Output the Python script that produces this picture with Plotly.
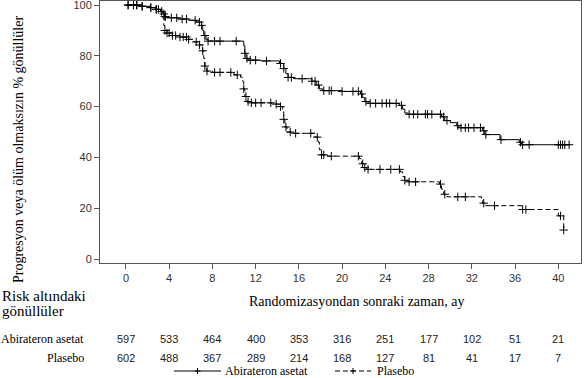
import plotly.graph_objects as go
import numpy as np

# ---------------- data ----------------
abi_t = [0, 1.5, 2.2, 2.8, 3.2, 3.5, 3.6, 3.7, 4.8, 5.8, 6.5, 7.0, 7.1, 7.2, 7.4, 7.6,
         10.9, 11.0, 11.1, 11.3, 12.5, 14.2, 14.6, 14.8, 15.0, 15.5, 17.2, 17.6, 17.9, 18.2,
         20.0, 21.7, 21.9, 22.1, 22.4, 25.3, 25.6, 25.8, 26.1, 29.2, 29.5, 30.0, 30.6, 30.8,
         33.0, 33.2, 34.6, 36.4, 36.6, 41.1]
abi_s = [100, 99.5, 99, 98.3, 97.5, 96.5, 95.5, 95, 94.5, 94, 93.3, 92, 90, 88, 86.5, 85.8,
         84, 81, 79, 78.3, 78, 77, 75, 73, 71.5, 71, 70, 68.5, 67, 66.3,
         66, 65, 63.5, 62, 61.3, 60.5, 59, 57.5, 57, 56, 54.5, 53.7, 52.5, 51.7,
         50.5, 49, 47, 46, 45, 45]

pla_t = [0, 1.5, 2.2, 2.8, 3.2, 3.4, 3.5, 3.6, 3.8, 4.3, 5.0, 5.8, 6.3, 6.8, 7.1, 7.2, 7.3, 7.5,
         8.0, 10.0, 10.6, 10.8, 10.9, 11.0, 11.2, 11.5, 13.5, 14.2, 14.5, 14.6, 14.7, 14.9, 15.3,
         17.5, 17.8, 17.9, 18.1, 18.5, 21.6, 21.8, 22.0, 22.3, 25.4, 25.6, 25.8, 26.1,
         29.0, 29.2, 29.4, 29.7, 32.9, 33.0, 33.2, 36.6, 40.0, 40.5]
pla_s = [100, 99.5, 99, 98.3, 97.3, 95, 92, 90, 89, 88, 87.4, 86.5, 85.5, 84.3, 82, 79, 76, 74,
         73.5, 72.5, 71.6, 70, 67, 64, 62, 61.5, 61, 60, 58, 55, 52, 50, 49.5,
         48, 46, 43, 41, 40.5, 39.5, 37.5, 36, 35.3, 34.3, 32.5, 31, 30.4,
         29.5, 27.5, 25.5, 24.5, 23.5, 22, 21, 19.5, 17, 11.4]

abi_cens = [0.2, 0.7, 1.0, 1.5, 2.3, 2.8, 3.0, 3.3, 3.5, 3.6, 3.65, 4.2, 4.7, 5.2, 5.6, 6.4, 6.8,
            7.0, 7.3, 7.6, 8.2, 8.7, 10.2, 11.0, 11.2, 11.5, 12.0, 13.0, 14.3, 14.6, 15.0, 15.3,
            16.3, 17.2, 17.5, 17.8, 18.3, 18.8, 19.0, 20.0, 21.0, 21.5, 21.8, 22.2, 22.6, 23.1,
            23.7, 24.1, 24.4, 25.0, 25.5, 26.2, 26.6, 27.0, 27.7, 27.9, 28.3, 29.1, 29.4, 29.7,
            30.7, 31.0, 31.4, 31.7, 32.2, 32.8, 33.1, 33.3, 34.7, 36.5, 36.7, 37.3,
            40.0, 40.2, 40.4, 40.6, 41.0]
pla_cens = [0.2, 0.7, 1.0, 1.5, 2.3, 2.8, 3.6, 3.8, 4.0, 4.3, 4.6, 5.0, 5.3, 5.6, 5.8, 6.5, 6.8,
            7.1, 7.3, 7.5, 8.2, 8.7, 9.7, 10.3, 10.9, 11.1, 11.3, 11.6, 12.0, 12.5, 13.4, 13.9,
            14.3, 14.6, 14.8, 15.2, 15.7, 17.1, 17.7, 18.1, 18.3, 19.0, 21.5, 21.9, 22.1, 22.4,
            23.5, 24.5, 25.3, 25.8, 26.2, 26.8, 29.1, 29.5, 30.7, 31.4, 33.1, 34.1, 36.7, 37.0,
            40.2, 40.5]

tick_months = [0, 4, 8, 12, 16, 20, 24, 28, 32, 36, 40]
risk_abi = [597, 533, 464, 400, 353, 316, 251, 177, 102, 51, 21]
risk_pla = [602, 488, 367, 289, 214, 168, 127, 81, 41, 17, 7]

name_abi = "Abirateron asetat"
name_pla = "Plasebo"

# ---------------- layout helpers ----------------
W, H = 585, 378
L, R, T, B = 100, 4, 1, 115
PW, PH = W - L - R, H - T - B
SERIF = "Liberation Serif"
SANS = "Liberation Sans"
DASH = "5px,3px"


def px_x(px):
    return (px - L) / PW


def px_y(py):
    return (H - B - py) / PH


def step_val(times, surv, t):
    idx = np.searchsorted(times, t, side="right") - 1
    return surv[max(idx, 0)]


fig = go.Figure()

for t, s, cens, dash in [(abi_t, abi_s, abi_cens, "solid"), (pla_t, pla_s, pla_cens, DASH)]:
    fig.add_trace(go.Scatter(x=t, y=s, mode="lines", line=dict(color="black", width=1, dash=dash, shape="hv"),
                             showlegend=False, hoverinfo="skip", cliponaxis=False))
    cy = [step_val(t, s, c) for c in cens]
    fig.add_trace(go.Scatter(x=cens, y=cy, mode="markers",
                             marker=dict(symbol="cross-thin", size=6, line=dict(color="black", width=1)),
                             showlegend=False, hoverinfo="skip"))

annotations = []
shapes = []
# y axis title
annotations.append(dict(text="Progresyon veya ölüm olmaksızın % gönüllüler", textangle=-90,
                        xref="paper", yref="paper", x=px_x(18), y=px_y(150), showarrow=False,
                        font=dict(family=SERIF, size=14, color="black"), xanchor="center", yanchor="middle"))
# x axis title
annotations.append(dict(text="Randomizasyondan sonraki zaman, ay", xref="paper", yref="paper",
                        x=px_x(356), y=px_y(301), showarrow=False,
                        font=dict(family=SERIF, size=14, color="black"), xanchor="center", yanchor="middle"))
# risk header (two lines)
for txt, py in [("Risk altındaki", 296), ("gönüllüler", 311)]:
    annotations.append(dict(text=txt, xref="paper", yref="paper", x=px_x(0), y=px_y(py),
                            showarrow=False, font=dict(family=SERIF, size=15, color="black"),
                            xanchor="left", yanchor="middle"))
for lbl, row, py in [(name_abi, risk_abi, 339), (name_pla, risk_pla, 358)]:
    annotations.append(dict(text=lbl, xref="paper", yref="paper", x=px_x(86), y=px_y(py), showarrow=False,
                            font=dict(family=SERIF, size=12, color="black"), xanchor="right", yanchor="middle"))
    for m, v in zip(tick_months, row):
        annotations.append(dict(text=str(v), xref="x", yref="paper", x=m, y=px_y(py), showarrow=False,
                                font=dict(family=SANS, size=11, color="#222"), xanchor="center", yanchor="middle"))

# legend (drawn manually to match the reference's sample lengths and spacing)
LEG_Y = 371
for x0, x1, dash, label, tx in [(174, 221, "solid", name_abi, 223), (335, 371, DASH, name_pla, 375)]:
    shapes.append(dict(type="line", xref="paper", yref="paper", x0=px_x(x0), x1=px_x(x1),
                       y0=px_y(LEG_Y), y1=px_y(LEG_Y), line=dict(color="black", width=1, dash=dash)))
    cx = (x0 + x1) / 2
    shapes.append(dict(type="line", xref="paper", yref="paper", x0=px_x(cx), x1=px_x(cx),
                       y0=px_y(LEG_Y - 3), y1=px_y(LEG_Y + 3), line=dict(color="black", width=1)))
    shapes.append(dict(type="line", xref="paper", yref="paper", x0=px_x(cx - 3), x1=px_x(cx + 3),
                       y0=px_y(LEG_Y), y1=px_y(LEG_Y), line=dict(color="black", width=1)))
    annotations.append(dict(text=label, xref="paper", yref="paper", x=px_x(tx), y=px_y(LEG_Y), showarrow=False,
                            font=dict(family=SERIF, size=12, color="black"), xanchor="left", yanchor="middle"))

fig.update_layout(
    width=W, height=H, margin=dict(l=L, r=R, t=T, b=B, autoexpand=False),
    plot_bgcolor="white", paper_bgcolor="white",
    annotations=annotations, shapes=shapes,
    showlegend=False,
)
fig.update_xaxes(range=[-2.4, 42.1], tickvals=tick_months, ticks="outside", ticklen=5, tickcolor="#555",
                 showline=True, linecolor="#555", linewidth=1, mirror=True, showgrid=False, zeroline=False,
                 automargin=False, ticklabeloverflow="allow",
                 tickfont=dict(family=SANS, size=11, color="#333"))
fig.update_yaxes(range=[-1.57, 101.6], tickvals=[0, 20, 40, 60, 80, 100], ticks="outside", ticklen=5,
                 tickcolor="#555", showline=True, linecolor="#555", linewidth=1, mirror=True, showgrid=False,
                 zeroline=False, automargin=False, ticklabeloverflow="allow",
                 tickfont=dict(family=SANS, size=11, color="#333"))

fig.write_html("out.html", config={"displayModeBar": False},
               post_script="document.body.style.margin='0';document.body.style.overflow='hidden';")
